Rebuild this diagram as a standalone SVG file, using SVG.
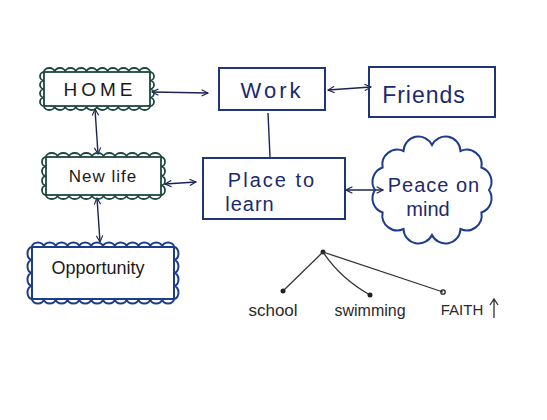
<svg xmlns="http://www.w3.org/2000/svg" width="547" height="420" viewBox="0 0 547 420">
<defs>
<style>
.box{fill:none;stroke:#1f3577;stroke-width:2}
.scg{fill:none;stroke:#1e4640;stroke-width:1.8}
.scb{fill:none;stroke:#1d3c8c;stroke-width:2}
.edge{fill:none;stroke:#1b2450;stroke-width:1.4}
.tree{fill:none;stroke:#333;stroke-width:1.3}
.dot{fill:#222}
.t{font-family:"Liberation Sans",Arial,sans-serif;font-size:20px;fill:#1b2a6b;text-anchor:middle}
.tk{font-family:"Liberation Sans",Arial,sans-serif;font-size:17px;fill:#1a1a1a;text-anchor:middle}
.ts{font-family:"Liberation Sans",Arial,sans-serif;font-size:15px;fill:#2a2a2a;text-anchor:middle}
</style>
<marker id="ah" viewBox="0 0 10 10" refX="9" refY="5" markerWidth="8" markerHeight="8" orient="auto-start-reverse" markerUnits="userSpaceOnUse">
<path d="M1,1 L9,5 L1,9" fill="none" stroke="#1b2450" stroke-width="1.4"/>
</marker>
</defs>
<rect width="547" height="420" fill="#fff"/>

<g id="connectors">
<line class="edge" x1="152" y1="92" x2="208" y2="93" marker-start="url(#ah)" marker-end="url(#ah)"/>
<line class="edge" x1="328" y1="90" x2="371" y2="87" marker-start="url(#ah)" marker-end="url(#ah)"/>
<line class="edge" x1="268" y1="113" x2="270" y2="157"/>
<line class="edge" x1="165" y1="184" x2="196" y2="182" marker-start="url(#ah)" marker-end="url(#ah)"/>
<line class="edge" x1="346" y1="190" x2="383" y2="190" marker-start="url(#ah)" marker-end="url(#ah)"/>
<line class="edge" x1="95" y1="109" x2="98" y2="154" marker-start="url(#ah)" marker-end="url(#ah)"/>
<line class="edge" x1="97" y1="198" x2="100" y2="242" marker-start="url(#ah)" marker-end="url(#ah)"/>
</g>

<g id="home">
<rect class="scg" x="44" y="72" width="106" height="34"/>
<path class="scg" d="M44,72 a5.3,4 0 0 1 10.6,0 a5.3,4 0 0 1 10.6,0 a5.3,4 0 0 1 10.6,0 a5.3,4 0 0 1 10.6,0 a5.3,4 0 0 1 10.6,0 a5.3,4 0 0 1 10.6,0 a5.3,4 0 0 1 10.6,0 a5.3,4 0 0 1 10.6,0 a5.3,4 0 0 1 10.6,0 a5.3,4 0 0 1 10.6,0 a4,4.25 0 0 1 0,8.5 a4,4.25 0 0 1 0,8.5 a4,4.25 0 0 1 0,8.5 a4,4.25 0 0 1 0,8.5 a5.3,4 0 0 1 -10.6,0 a5.3,4 0 0 1 -10.6,0 a5.3,4 0 0 1 -10.6,0 a5.3,4 0 0 1 -10.6,0 a5.3,4 0 0 1 -10.6,0 a5.3,4 0 0 1 -10.6,0 a5.3,4 0 0 1 -10.6,0 a5.3,4 0 0 1 -10.6,0 a5.3,4 0 0 1 -10.6,0 a5.3,4 0 0 1 -10.6,0 a4,4.25 0 0 1 0,-8.5 a4,4.25 0 0 1 0,-8.5 a4,4.25 0 0 1 0,-8.5 a4,4.25 0 0 1 0,-8.5"/>
<text class="tk" x="100" y="96" style="font-size:19px;letter-spacing:4px">HOME</text>
</g>

<g id="work">
<rect class="box" x="219" y="68" width="106" height="42"/>
<text class="t" x="272" y="98" style="font-size:22px;letter-spacing:3px">Work</text>
</g>

<g id="friends">
<rect class="box" x="369" y="67" width="126" height="50"/>
<text class="t" x="424" y="103" style="font-size:23px;letter-spacing:1px">Friends</text>
</g>

<g id="newlife">
<rect class="scg" x="46" y="157" width="115" height="38"/>
<path class="scg" d="M46,157 a5.75,4 0 0 1 11.5,0 a5.75,4 0 0 1 11.5,0 a5.75,4 0 0 1 11.5,0 a5.75,4 0 0 1 11.5,0 a5.75,4 0 0 1 11.5,0 a5.75,4 0 0 1 11.5,0 a5.75,4 0 0 1 11.5,0 a5.75,4 0 0 1 11.5,0 a5.75,4 0 0 1 11.5,0 a5.75,4 0 0 1 11.5,0 a4,4.75 0 0 1 0,9.5 a4,4.75 0 0 1 0,9.5 a4,4.75 0 0 1 0,9.5 a4,4.75 0 0 1 0,9.5 a5.75,4 0 0 1 -11.5,0 a5.75,4 0 0 1 -11.5,0 a5.75,4 0 0 1 -11.5,0 a5.75,4 0 0 1 -11.5,0 a5.75,4 0 0 1 -11.5,0 a5.75,4 0 0 1 -11.5,0 a5.75,4 0 0 1 -11.5,0 a5.75,4 0 0 1 -11.5,0 a5.75,4 0 0 1 -11.5,0 a5.75,4 0 0 1 -11.5,0 a4,4.75 0 0 1 0,-9.5 a4,4.75 0 0 1 0,-9.5 a4,4.75 0 0 1 0,-9.5 a4,4.75 0 0 1 0,-9.5"/>
<text class="tk" x="103" y="182" style="font-size:17px;letter-spacing:1px">New life</text>
</g>

<g id="place">
<rect class="box" x="203" y="158" width="142" height="61"/>
<text class="t" x="272" y="187" style="letter-spacing:2px">Place to</text>
<text class="t" x="250" y="211" style="letter-spacing:1px">learn</text>
</g>

<g id="opportunity">
<rect class="scb" x="32" y="247" width="142" height="52"/>
<path class="scb" d="M32,247 a5.9,4.5 0 0 1 11.83,0 a5.9,4.5 0 0 1 11.83,0 a5.9,4.5 0 0 1 11.83,0 a5.9,4.5 0 0 1 11.83,0 a5.9,4.5 0 0 1 11.83,0 a5.9,4.5 0 0 1 11.83,0 a5.9,4.5 0 0 1 11.83,0 a5.9,4.5 0 0 1 11.83,0 a5.9,4.5 0 0 1 11.83,0 a5.9,4.5 0 0 1 11.83,0 a5.9,4.5 0 0 1 11.83,0 a5.9,4.5 0 0 1 11.83,0 a4.5,6.5 0 0 1 0,13 a4.5,6.5 0 0 1 0,13 a4.5,6.5 0 0 1 0,13 a4.5,6.5 0 0 1 0,13 a5.9,4.5 0 0 1 -11.83,0 a5.9,4.5 0 0 1 -11.83,0 a5.9,4.5 0 0 1 -11.83,0 a5.9,4.5 0 0 1 -11.83,0 a5.9,4.5 0 0 1 -11.83,0 a5.9,4.5 0 0 1 -11.83,0 a5.9,4.5 0 0 1 -11.83,0 a5.9,4.5 0 0 1 -11.83,0 a5.9,4.5 0 0 1 -11.83,0 a5.9,4.5 0 0 1 -11.83,0 a5.9,4.5 0 0 1 -11.83,0 a5.9,4.5 0 0 1 -11.83,0 a4.5,6.5 0 0 1 0,-13 a4.5,6.5 0 0 1 0,-13 a4.5,6.5 0 0 1 0,-13 a4.5,6.5 0 0 1 0,-13"/>
<text class="tk" x="98" y="274" style="font-size:18px">Opportunity</text>
</g>

<g id="peace">
<path class="scb" d="M489,190 A15,15 0 0 1 481.4,212.5 A15,15 0 0 1 460.5,229 A15,15 0 0 1 432,235 A15,15 0 0 1 403.5,229 A15,15 0 0 1 382.6,212.5 A15,15 0 0 1 375,190 A15,15 0 0 1 382.6,167.5 A15,15 0 0 1 403.5,151 A15,15 0 0 1 432,145 A15,15 0 0 1 460.5,151 A15,15 0 0 1 481.4,167.5 A15,15 0 0 1 489,190 Z"/>
<text class="t" x="434" y="192" style="letter-spacing:1px">Peace on</text>
<text class="t" x="428" y="216">mind</text>
</g>

<g id="tree">
<circle class="dot" cx="323" cy="252" r="2.5"/>
<path class="tree" d="M323,252 L283,291"/>
<path class="tree" d="M323,252 Q340,278 370,295"/>
<path class="tree" d="M323,252 L443,292"/>
<circle class="dot" cx="283" cy="291" r="2.5"/>
<circle class="dot" cx="370" cy="295" r="2.5"/>
<circle cx="443" cy="292" r="2.2" fill="none" stroke="#222" stroke-width="1.3"/>
</g>

<g id="school"><text class="ts" x="273" y="316" style="font-size:17px">school</text></g>
<g id="swimming"><text class="ts" x="370" y="316" style="font-size:16px">swimming</text></g>
<g id="faith">
<text class="ts" x="462" y="315">FAITH</text>
<path class="tree" d="M494,318 L494,300 M490,305 L494,299 L498,305"/>
</g>
</svg>
